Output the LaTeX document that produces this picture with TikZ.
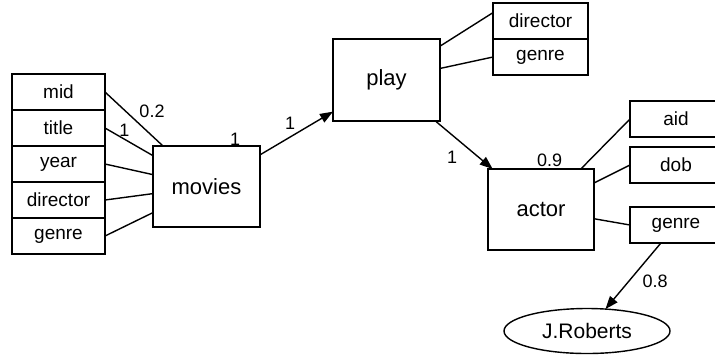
\documentclass[tikz,border=0pt]{standalone}
\usepackage{fontspec}
\setmainfont{Liberation Sans}
\usetikzlibrary{positioning,arrows.meta,shapes.geometric}

\begin{document}
\begin{tikzpicture}[
    x=0.5pt, y=-0.5pt,
    line width=0.7pt,
    entity/.style={draw, outer sep=0pt, minimum width=53.5pt, minimum height=40.5pt, font=\fontsize{11}{13}\selectfont},
    attr/.style={draw, outer sep=0pt, inner sep=0pt, minimum height=18pt, font=\fontsize{9.5}{11}\selectfont},
    value/.style={draw, ellipse, outer sep=0pt, inner sep=0pt, minimum width=83pt, minimum height=22.5pt, font=\fontsize{10.5}{12}\selectfont},
    wt/.style={inner sep=0pt, font=\fontsize{9}{11}\selectfont},
    arr/.style={-{Triangle[length=6.5pt,width=4.8pt]}}
]
\useasboundingbox (0,0) rectangle (715,360);
\clip (0,0) rectangle (715,360);

% entities
\node[entity] (movies) at (206.5,186.5) {movies};
\node[entity, minimum height=41pt] (play) at (386.5,80) {play};
\node[entity, minimum width=53pt] (actor) at (541,209.5) {actor};

% attributes of movies
\node[attr, minimum width=46.5pt] (mid) at (58.5,92) {mid};
\node[attr, minimum width=46.5pt, below=0pt of mid] (title) {title};
\node[attr, minimum width=46.5pt, below=0pt of title] (year) {year};
\node[attr, minimum width=46.5pt, below=0pt of year] (mdirector) {director};
\node[attr, minimum width=46.5pt, below=0pt of mdirector] (mgenre) {genre};

% attributes of play
\node[attr, minimum width=47.5pt] (pdirector) at (540.5,21) {director};
\node[attr, minimum width=47.5pt, below=0pt of pdirector] (pgenre) {genre};

% attributes of actor
\node[attr, minimum width=46pt] (aid) at (676,119) {aid};
\node[attr, minimum width=46pt] (dob) at (676,165) {dob};
\node[attr, minimum width=46pt] (agenre) at (676,225) {genre};

\node[value] (roberts) at (587,331) {J.Roberts};

\draw (movies) -- (mid.east);
\draw (movies) -- (title.east);
\draw (movies) -- (year.east);
\draw (movies) -- (mdirector.east);
\draw (movies) -- (mgenre.east);
\draw (play) -- (pdirector.170);
\draw (play) -- (pgenre.west);
\draw (actor) -- (aid.west);
\draw (actor) -- (dob.west);
\draw (actor) -- (agenre.west);

\draw[arr] (movies) -- (play);
\draw[arr] (play) -- (actor);
\draw[arr] (agenre) -- (roberts);

% weights
\node[wt] (w1) at (152,111) {0.2};
\node[wt] (w2) at (124.5,130.5) {1};
\node[wt] (w3) at (235,139) {1};
\node[wt] (w4) at (290,123) {1};
\node[wt] (w5) at (452,157) {1};
\node[wt] (w6) at (549.5,160) {0.9};
\node[wt] (w7) at (655,281) {0.8};
\end{tikzpicture}
\end{document}
